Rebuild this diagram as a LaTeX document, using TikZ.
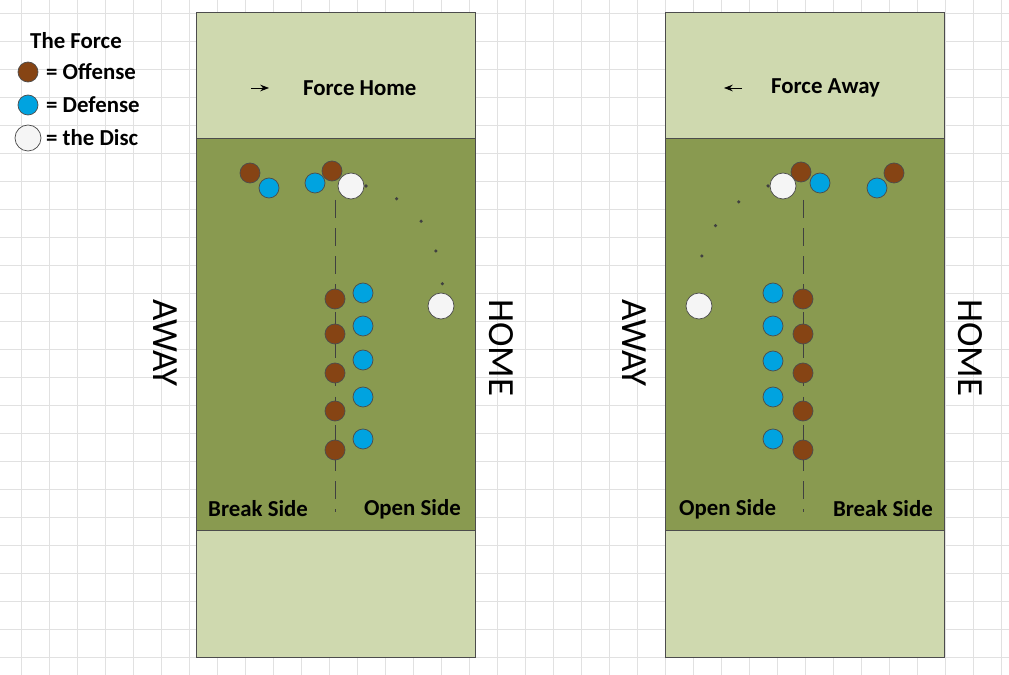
\documentclass[tikz,border=0pt]{standalone}
\usepackage{fontspec}
\setmainfont{Carlito}
\usetikzlibrary{arrows.meta}
\definecolor{endzone}{RGB}{207,217,175}
\definecolor{turf}{RGB}{137,154,80}
\definecolor{offense}{RGB}{134,68,20}
\definecolor{defense}{RGB}{0,163,224}
\definecolor{gridline}{RGB}{225,225,225}
\tikzset{
  off/.style = {circle, draw=black!70, fill=offense, minimum size=20*0.02cm, inner sep=0pt},
  def/.style = {circle, draw=black!70, fill=defense, minimum size=20*0.02cm, inner sep=0pt},
  disc/.style = {circle, draw=black!70, fill=white!96!black, minimum size=26*0.02cm, inner sep=0pt},
  lbl/.style = {font=\bfseries\fontsize{13}{15}\selectfont},
  side/.style = {font=\fontsize{21}{24}\selectfont}
}
\begin{document}
\begin{tikzpicture}[x=0.02cm, y=-0.02cm]
		
		\useasboundingbox (0, 0) rectangle (1009, 675);
		\fill[white] (0, 0) rectangle (1009, 675);
		\foreach \gx in {21, 49, ..., 1009} \draw[gridline] (\gx, 0) -- (\gx, 675);
		\foreach \gy in {13, 41, ..., 675} \draw[gridline] (0, \gy) -- (1009, \gy);
		
		% legend
		\node[lbl, anchor=west] (title) at (24, 41) {The Force};
		\node[off] (legoff) at (28, 72) {};
		\node[lbl, anchor=west] at (40, 72) {= Offense};
		\node[def] (legdef) at (28, 105) {};
		\node[lbl, anchor=west] at (40, 105) {= Defense};
		\node[disc] (legdisc) at (28, 138) {};
		\node[lbl, anchor=west] at (40, 138) {= the Disc};
		
		% left field
		\fill[endzone, draw=black!70] (196, 12) rectangle (475, 138);
		\fill[turf, draw=black!70] (196, 138) rectangle (475, 530);
		\fill[endzone, draw=black!70] (196, 530) rectangle (475, 657);
		\draw[-{Stealth[length=5pt]}] (251, 88) -- (269, 88);
		\node[lbl, anchor=west] at (297, 88) {Force Home};
		\node[side, rotate=-90] at (165, 343) {AWAY};
		\node[side, rotate=-90] at (501, 348) {HOME};
		\node[lbl, anchor=west] at (202, 509) {Break Side};
		\node[lbl, anchor=east] at (467, 509) {Open Side};
		\coordinate (lt) at (335, 200);
		\coordinate (lb) at (335, 512);
		\draw[black!75, dash pattern=on 10pt off 6pt] (lt) -- (lb);
		\draw[black!75, line width=2pt, dash pattern=on 0pt off 19pt, line cap=round]
			(366, 186) .. controls (420, 200) and (440, 240) .. (443, 292);
		\foreach \py in {299, 334, 373, 411, 450} \node[off] at (335, \py) {};
		\foreach \py in {293, 326, 360, 397, 439} \node[def] at (363, \py) {};
		\node[off] (lo1) at (250, 173) {};
		\node[def] (ld1) at (269, 188) {};
		\node[off] (lo2) at (332, 171) {};
		\node[def] (ld2) at (315, 183) {};
		\node[disc] (ldisc) at (351, 186) {};
		\node[disc] (ldisc2) at (441, 306) {};
		
		% right field
		\fill[endzone, draw=black!70] (665, 12) rectangle (944, 138);
		\fill[turf, draw=black!70] (665, 138) rectangle (944, 530);
		\fill[endzone, draw=black!70] (665, 530) rectangle (944, 657);
		\draw[-{Stealth[length=5pt]}] (742, 88) -- (724, 88);
		\node[lbl, anchor=west] at (765, 88) {Force Away};
		\node[side, rotate=-90] at (634, 343) {AWAY};
		\node[side, rotate=-90] at (970, 348) {HOME};
		\node[lbl, anchor=west] at (673, 509) {Open Side};
		\node[lbl, anchor=east] at (939, 509) {Break Side};
		\coordinate (rt) at (803, 200);
		\coordinate (rb) at (803, 512);
		\draw[black!75, dash pattern=on 10pt off 6pt] (rt) -- (rb);
		\draw[black!75, line width=2pt, dash pattern=on 0pt off 19pt, line cap=round]
			(768, 186) .. controls (720, 205) and (700, 240) .. (698, 282);
		\foreach \py in {299, 334, 373, 411, 450} \node[off] at (803, \py) {};
		\foreach \py in {293, 326, 361, 397, 439} \node[def] at (773, \py) {};
		\node[off] (ro1) at (894, 173) {};
		\node[def] (rd1) at (877, 188) {};
		\node[def] (rd2) at (820, 183) {};
		\node[off] (ro2) at (801, 172) {};
		\node[disc] (rdisc) at (783, 186) {};
		\node[disc] (rdisc2) at (699, 306) {};
	\end{tikzpicture}
\end{document}
